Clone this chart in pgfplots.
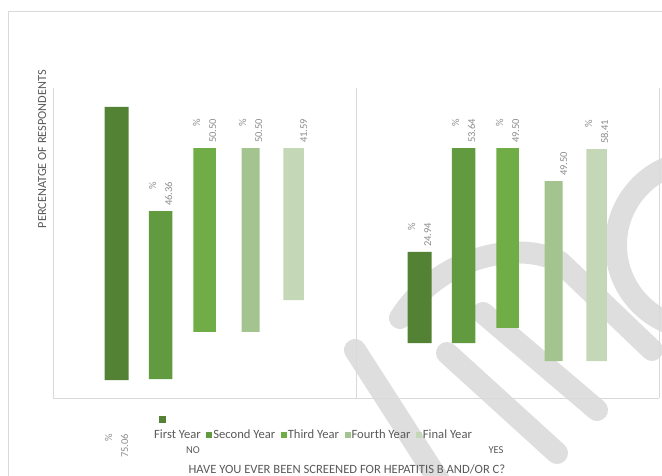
\documentclass[border=0pt]{standalone}
\usepackage{pgfplots}
\pgfplotsset{compat=1.18}
\usepackage{pgfplotstable}
\usepackage{fontspec}
\setmainfont{Carlito}

\definecolor{c1}{HTML}{548235}
\definecolor{c2}{HTML}{629B3F}
\definecolor{c3}{HTML}{70AD47}
\definecolor{c4}{HTML}{A3C48E}
\definecolor{c5}{HTML}{C4D8B8}
\definecolor{txt}{HTML}{595959}
\definecolor{labc}{HTML}{8C8C8C}
\definecolor{gridc}{HTML}{D9D9D9}
\definecolor{wm}{HTML}{DEDEDE}

% x: 0 = NO, 1 = YES ; floating bar from base to top (h = top - base)
\pgfplotstableread{
x base h top lab pct dy
0 5.8 88.1 93.9 75.06 1 -352
1 17.7 29.4 47.1 24.94 1 4
}\first
\pgfplotstableread{
x base h top lab pct dy
0 6.1 54.2 60.3 46.36 1 4
1 17.7 62.9 80.6 53.64 1 4
}\second
\pgfplotstableread{
x base h top lab pct dy
0 21.3 59.3 80.6 50.50 1 4
1 22.6 58.0 80.6 49.50 1 4
}\third
\pgfplotstableread{
x base h top lab pct dy
0 21.3 59.3 80.6 50.50 1 4
1 11.9 58.1 70.0 49.50 0 4
}\fourth
\pgfplotstableread{
x base h top lab pct dy
0 31.6 49.0 80.6 41.59 0 4
1 11.9 68.4 80.3 58.41 1 4
}\final

\pgfplotsset{
  base/.style={scale only axis, width=606pt, height=310pt,
    at={(53pt,77pt)}, anchor=south west,
    xmin=-0.5, xmax=1.5, ymin=0, ymax=100, clip=false},
  bars/.style={base, hide axis, ybar stacked},
  lab/.style={sharp plot, draw=none, mark=none, forget plot,
    point meta=explicit symbolic,
    visualization depends on={\thisrow{pct}\as\pct},
    visualization depends on={\thisrow{dy}\as\dy},
    nodes near coords={\ifdim\pct pt>0.5pt \%\else\strut\fi\\\pgfplotspointmeta},
    nodes near coords align={center},
    every node near coord/.append style={xshift=#1, yshift=\dy pt, rotate=90, anchor=west,
      align=right, inner sep=1pt, text=labc,
      font=\fontsize{10.5}{16}\selectfont}},
}

\begin{document}
\begin{tikzpicture}
\path[use as bounding box] (0pt,0pt) rectangle (662pt,475pt);
\draw[gridc] (8pt,-5pt) -- (8pt,464pt) -- (670pt,464pt);
\begin{scope}[x=1pt, y=1pt, wm, line width=22pt, line cap=round, line join=round]
\draw (355,125) -- (445,-15);
\draw (447,122) -- (557,22);
\draw (483,162) -- (597,65);
\draw (400,157) .. controls (440,220) and (520,235) .. (560,213) -- (652,125);
\draw (700,230) circle (84);
\end{scope}

\begin{axis}[bars]
\addplot[draw=none, fill=none, forget plot, bar width=24pt, bar shift=-88pt] table[x=x, y=base] {\first};
\addplot[draw=none, fill=c1, forget plot, bar width=24pt, bar shift=-88pt] table[x=x, y=h] {\first};
\end{axis}
\begin{axis}[bars]
\addplot[draw=none, fill=none, forget plot, bar width=23.5pt, bar shift=-44pt] table[x=x, y=base] {\second};
\addplot[draw=none, fill=c2, forget plot, bar width=23.5pt, bar shift=-44pt] table[x=x, y=h] {\second};
\end{axis}
\begin{axis}[bars]
\addplot[draw=none, fill=none, forget plot, bar width=22.5pt, bar shift=0pt] table[x=x, y=base] {\third};
\addplot[draw=none, fill=c3, forget plot, bar width=22.5pt, bar shift=0pt] table[x=x, y=h] {\third};
\end{axis}
\begin{axis}[bars]
\addplot[draw=none, fill=none, forget plot, bar width=18pt, bar shift=46pt] table[x=x, y=base] {\fourth};
\addplot[draw=none, fill=c4, forget plot, bar width=18pt, bar shift=46pt] table[x=x, y=h] {\fourth};
\end{axis}
\begin{axis}[bars]
\addplot[draw=none, fill=none, forget plot, bar width=20.5pt, bar shift=89pt] table[x=x, y=base] {\final};
\addplot[draw=none, fill=c5, forget plot, bar width=20.5pt, bar shift=89pt] table[x=x, y=h] {\final};
\end{axis}

\begin{axis}[base,
  axis x line*=bottom, axis y line*=left,
  x axis line style={gridc}, y axis line style={draw=none},
  xtick={0,1}, xticklabels={NO,YES}, ytick=\empty,
  major tick length=0pt, minor tick length=0pt,
  minor xtick={-0.5,0.5,1.5}, xminorgrids=true,
  minor x grid style={gridc},
  xticklabel style={text=txt, font=\fontsize{10.5}{12}\selectfont, yshift=-45pt, xshift=-11.5pt},
  xlabel={HAVE YOU EVER BEEN SCREENED FOR HEPATITIS B AND/OR C?},
  xlabel style={at={(axis description cs:0.485,-0.229)}, anchor=center, text=txt,
    font=\fontsize{12.6}{14}\selectfont},
  ylabel={PERCENATGE OF RESPONDENTS},
  ylabel style={at={(axis description cs:-0.018,0.803)}, anchor=center, text=txt,
    font=\fontsize{12.3}{14}\selectfont},
  legend columns=-1,
  legend style={draw=none, fill=none, at={(axis description cs:0.165,-0.119)}, anchor=west,
    font=\fontsize{12.6}{15}\selectfont, text=txt, inner sep=0pt,
    nodes={inner sep=1pt},
    /tikz/every even column/.append style={column sep=4.5pt}},
  legend image code/.code={\fill[#1] (0pt,-3pt) rectangle (6pt,3pt);},
]
\addlegendimage{legend image code/.code={\fill[c1, overlay] (6pt,13pt) rectangle (12pt,19pt);}}
\addlegendentry{First Year}
\addlegendimage{fill=c2, draw=none}
\addlegendentry{Second Year}
\addlegendimage{fill=c3, draw=none}
\addlegendentry{Third Year}
\addlegendimage{fill=c4, draw=none}
\addlegendentry{Fourth Year}
\addlegendimage{fill=c5, draw=none}
\addlegendentry{Final Year}
\addplot[lab=-88pt] table[x=x, y=top, meta=lab] {\first};
\addplot[lab=-44pt] table[x=x, y=top, meta=lab] {\second};
\addplot[lab=0pt] table[x=x, y=top, meta=lab] {\third};
\addplot[lab=46pt] table[x=x, y=top, meta=lab] {\fourth};
\addplot[lab=89pt] table[x=x, y=top, meta=lab] {\final};
\end{axis}
\end{tikzpicture}
\end{document}
